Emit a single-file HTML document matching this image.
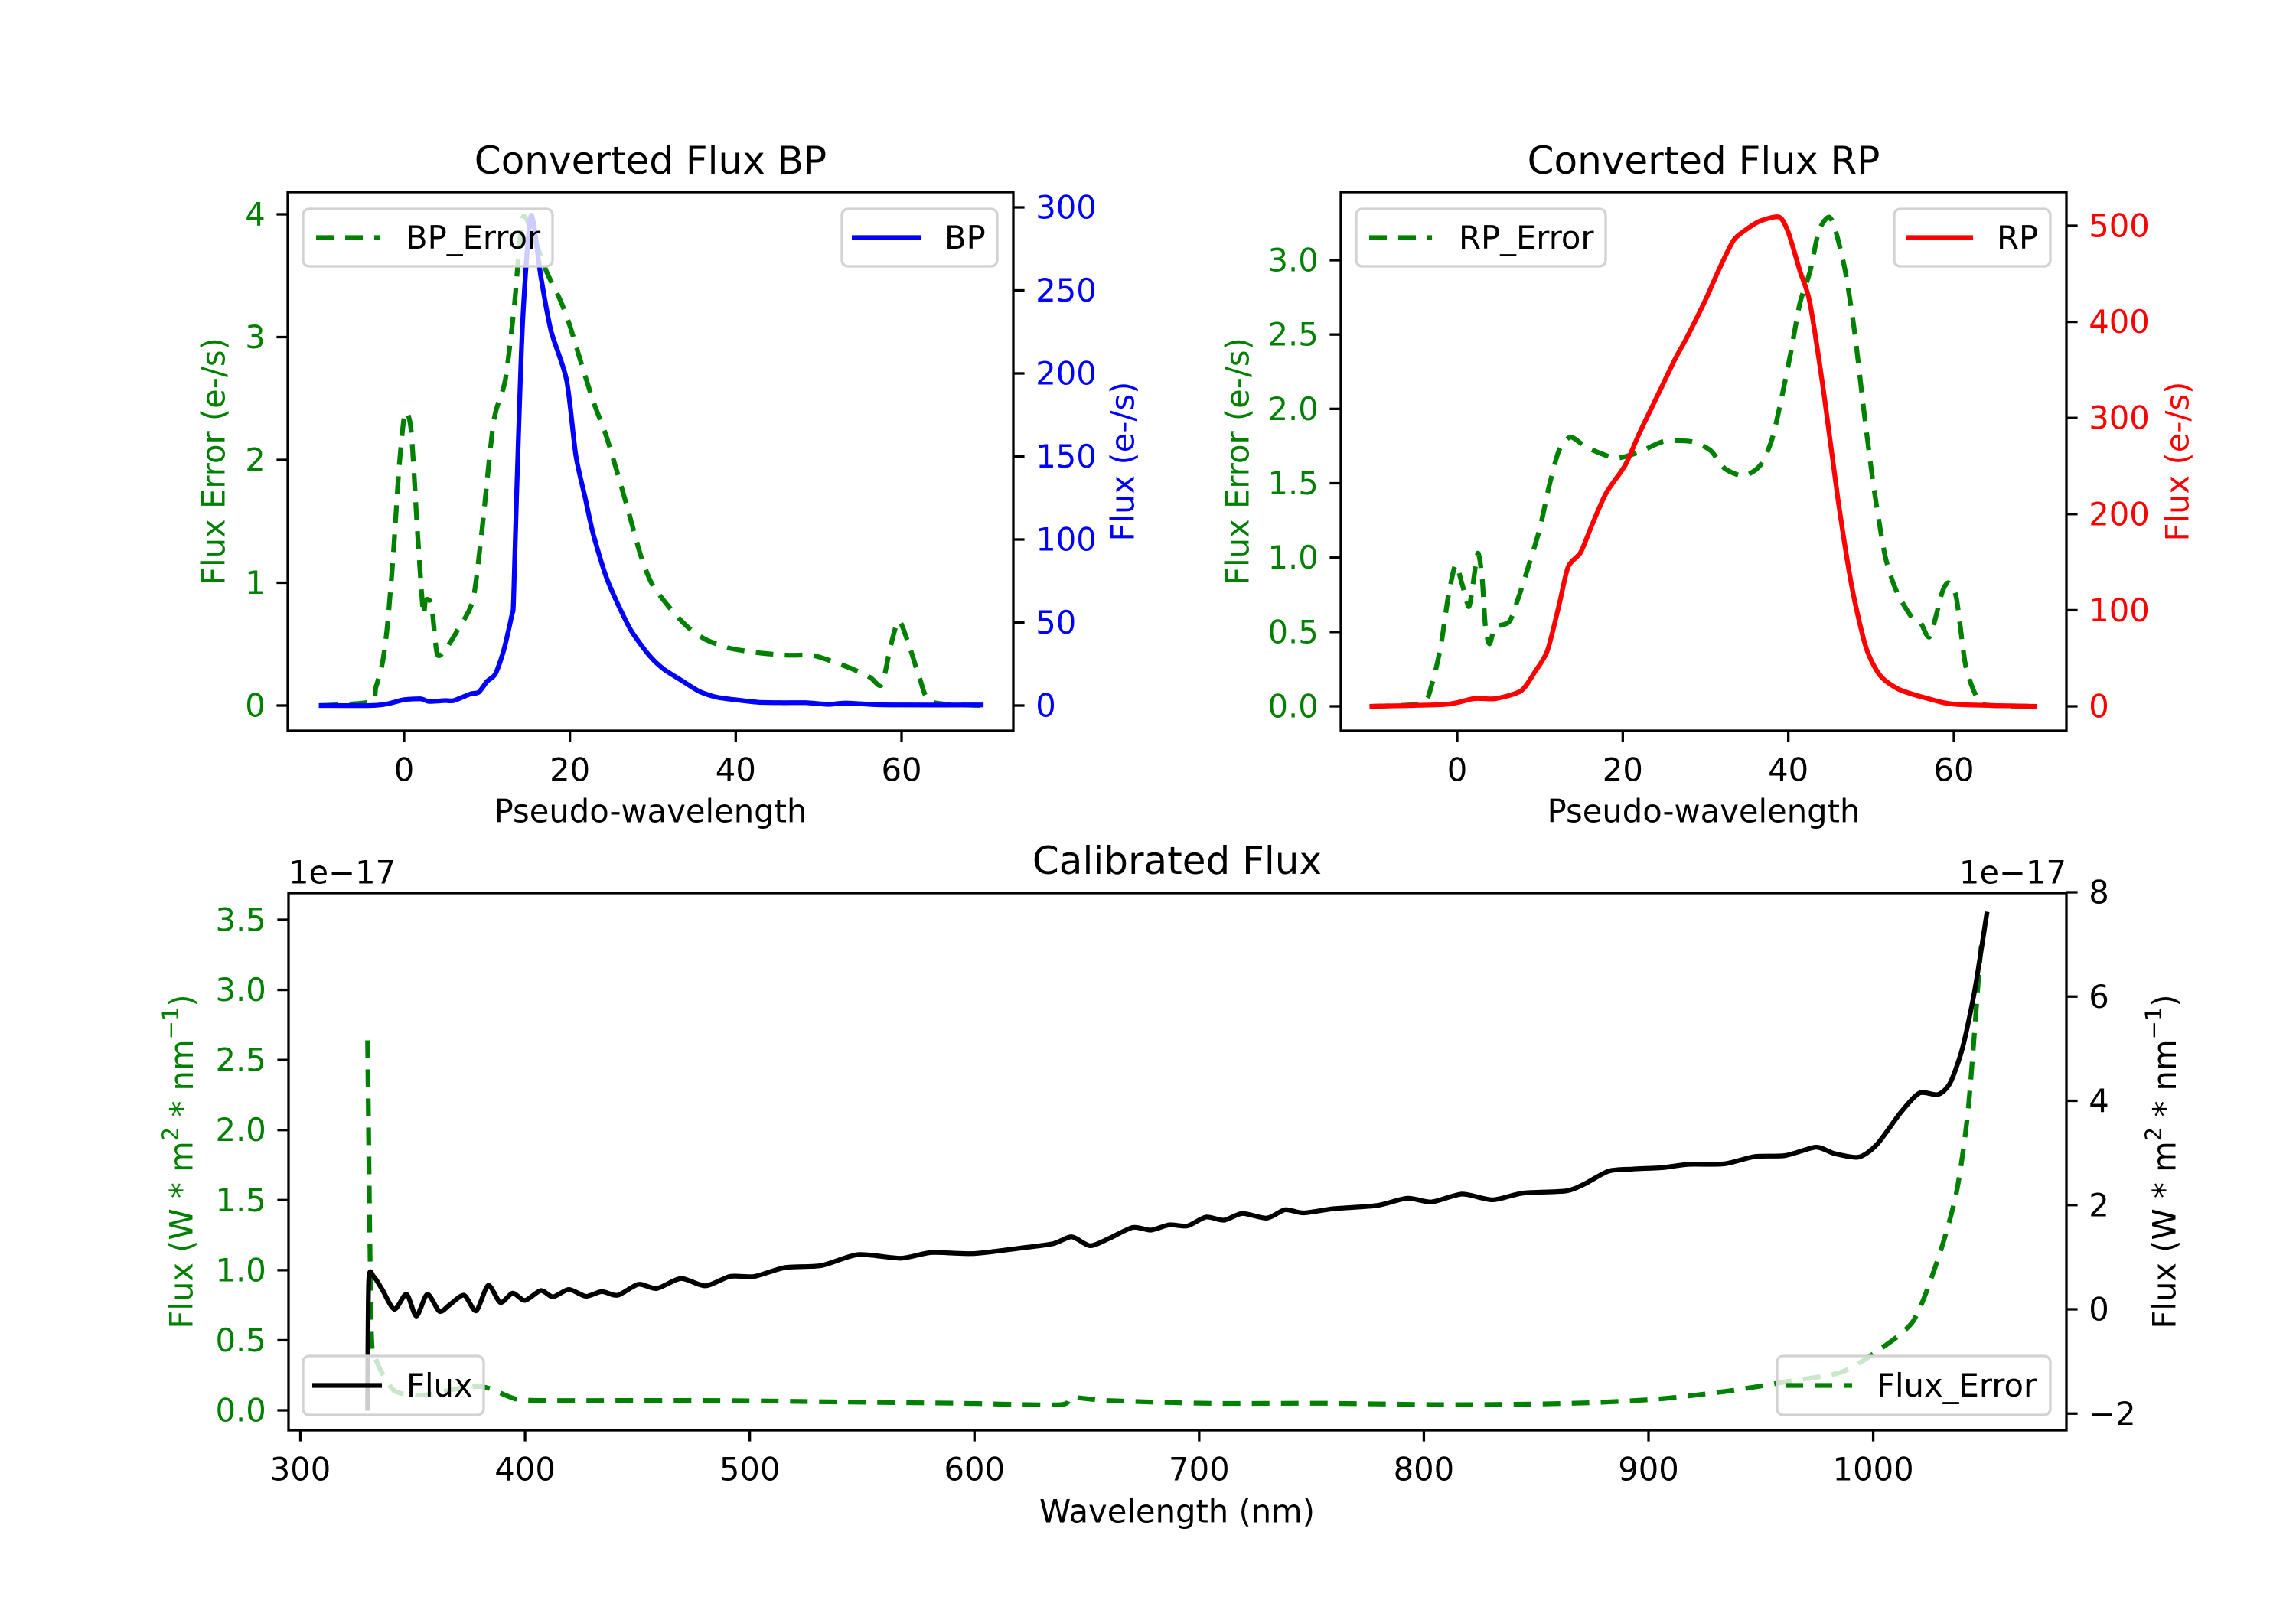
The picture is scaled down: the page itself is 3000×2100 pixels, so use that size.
<!DOCTYPE html>
<html><head><meta charset="utf-8"><style>
html,body{margin:0;padding:0;background:#fff}
svg{display:block;font-family:"DejaVu Sans","Liberation Sans",sans-serif}
</style></head><body>
<svg id="fig" xmlns="http://www.w3.org/2000/svg" width="3000" height="2100" viewBox="0 0 3000 2100">
<rect width="3000" height="2100" fill="#fff"/>
</svg>
<script>
// ---- BP data ----
const bpX = [-10,-4,-2,0,2,3,5,6,8,9,10,11,12,13,13.2,13.6,14.3,15.3,16.5,17.7,19.6,20.7,21.8,22.8,24.3,25.7,27.4,29.6,31.3,33.5,35.6,37.7,39.9,42.7,45.5,48.4,51.2,53.3,56.9,60.4,69.6];
const bpFlux = [0,0,1,3.5,4,2.5,3,3,7,8,14.5,19,33,54.5,63,131,231,295,258,226,196,151,126,103.5,78.5,62,45,30,22,15,8.5,5,3.5,2,1.7,1.7,0.7,1.5,0.5,0.3,0.3];
const bpErrX = [-10.1,-4.1,-3.4,-2.6,-2,-1.3,-0.6,0.1,0.85,1.6,2.3,2.6,3.3,4,5.1,6.5,8.3,9.4,10.8,12.2,13.3,14.3,15.7,17.2,18.9,20,21.4,22.8,24.3,25.7,27.1,28.5,29.9,32.1,34.2,36.3,39.1,42.7,46.2,49.1,51.2,54,56.2,57.6,58.7,59.7,61.1,62.2,63.6,69.6];
const bpErr = [0,0.03,0.15,0.35,0.66,1.23,1.94,2.38,2.24,1.43,0.76,0.86,0.82,0.42,0.47,0.62,0.86,1.43,2.31,2.65,3.26,3.97,3.8,3.53,3.29,3.09,2.78,2.48,2.21,1.9,1.57,1.23,0.99,0.79,0.64,0.54,0.47,0.43,0.41,0.41,0.37,0.3,0.23,0.17,0.49,0.69,0.45,0.22,0.03,0];
// ---- RP data ----
const rpX = [-10.3,-1.4,2,4.6,7.7,9.4,10.9,12.3,13.4,14.9,16.3,18,20.3,22,24.3,26.3,27.7,30,31.7,33.4,34.9,36.6,38.9,40,41.4,42.6,44.3,46,47.7,49.4,51.1,53.4,56.9,60.3,69.7];
const rpFlux = [0,2,8,8,16,36,58,105,145,160,189,222,251,284,325,361,383,423,456,485,496,505,509,493,453,420,325,215,123,61,32,17.5,8,2,0];
const rpErrX = [-10.3,-4.3,-3.1,-2,-1.1,-0.2,0.6,1.4,1.9,2.5,3,3.4,3.9,4.6,6.3,7.4,8.6,10,11.1,12.3,13.7,15.7,19.1,22,24.9,28.3,30.6,32.3,34.6,36.6,38,39.1,40.3,41.4,42.6,43.7,44.9,45.7,46.9,48,49.1,50.3,51.7,53.1,54.9,56,57.1,58.6,59.4,60.3,61.4,62.6,63.7,69.7];
const rpErr = [0,0.02,0.14,0.4,0.73,0.95,0.82,0.67,0.82,1.03,0.87,0.54,0.42,0.53,0.57,0.73,0.94,1.2,1.48,1.72,1.81,1.74,1.67,1.71,1.78,1.78,1.72,1.6,1.55,1.62,1.79,2.05,2.38,2.71,2.92,3.2,3.29,3.2,2.92,2.52,2.0,1.48,1.01,0.77,0.6,0.56,0.47,0.77,0.83,0.73,0.28,0.08,0.01,0];
// ---- Calibrated data (units 1e-17) ----
const calWl = [329.9,330.4,332.6,336.4,341.8,347.2,351.6,356.5,361.9,366.3,372.8,378.2,383.6,389,394.5,399.9,407,412.4,419.5,427.1,434.1,441.2,450.4,458.6,469.4,480.3,491.2,502,515.6,531.9,548.2,567.2,580.8,599.8,621.5,635.1,643.2,651.4,659.5,670.4,678.5,686.7,694.8,703,711.1,719.2,730.1,738.3,746.4,760,779,792.6,803.4,817,830.6,844.1,863.1,871.3,882.2,892.9,906.6,917.5,933.7,947.3,960.9,974.5,982.6,993.5,1001.6,1012.5,1020.6,1028.8,1034.2,1039.7,1045.1,1050.5];
const calFlux = [-1.9,0.55,0.63,0.38,0,0.29,-0.13,0.29,-0.04,0.08,0.27,-0.03,0.46,0.13,0.31,0.17,0.36,0.24,0.38,0.25,0.34,0.27,0.48,0.4,0.59,0.45,0.63,0.63,0.8,0.84,1.05,0.98,1.09,1.07,1.18,1.26,1.39,1.22,1.35,1.57,1.52,1.62,1.6,1.77,1.71,1.84,1.75,1.91,1.85,1.93,1.99,2.13,2.06,2.21,2.1,2.23,2.27,2.4,2.65,2.69,2.72,2.78,2.79,2.93,2.95,3.11,2.99,2.92,3.16,3.79,4.15,4.12,4.34,5.01,6.1,7.58];
const calErrWl = [329.9,331.5,333.7,341.8,355.4,371.7,379.8,385.3,396.1,409.7,431.4,485.7,540,594.3,637.8,643.2,659.5,703,757.3,811.6,865.9,904,936.5,963.6,985.4,1001.6,1017.9,1028.8,1037,1042.4,1047.8,1049.4];
const calErr = [2.64,0.61,0.36,0.14,0.11,0.16,0.17,0.15,0.08,0.07,0.07,0.07,0.06,0.05,0.04,0.09,0.07,0.05,0.05,0.04,0.05,0.08,0.14,0.21,0.27,0.42,0.64,1.08,1.55,2.17,3.27,3.42];
// tick arrays
const bpXTicks = [0,20,40,60];
const bpLTicks = [0,1,2,3,4];
const bpRTicks = [0,50,100,150,200,250,300];
const rpLTicks = [0,0.5,1,1.5,2,2.5,3];
const rpLLabels = ["0.0","0.5","1.0","1.5","2.0","2.5","3.0"];
const rpRTicks = [0,100,200,300,400,500];
const calXTicks = [300,400,500,600,700,800,900,1000];
const calLTicks = [0,0.5,1,1.5,2,2.5,3,3.5];
const calLLabels = ["0.0","0.5","1.0","1.5","2.0","2.5","3.0","3.5"];
const calRTicks = [-2,0,2,4,6,8];
const calRLabels = ["\u22122","0","2","4","6","8"];

const NS="http://www.w3.org/2000/svg";
const svg=document.getElementById('fig');
const FS=41.7, LW=6.25, TL=14.6, TW=3.3;
function mk(tag,attrs,parent){const e=document.createElementNS(NS,tag);for(const k in attrs)e.setAttribute(k,attrs[k]);(parent||svg).appendChild(e);return e;}
function lin(d0,d1,p0,p1){return v=>p0+(v-d0)*(p1-p0)/(d1-d0);}
function txt(s,x,y,opt,name){const t=mk('text',{x:x,y:y,'font-size':opt.fs||FS,fill:opt.fill||'#000','text-anchor':opt.anchor||'middle','dominant-baseline':'central'});
 if(opt.rot) t.setAttribute('transform','rotate(-90 '+x+' '+y+')');
 t.textContent=s;
 
 
 return t;}
function series(xs,ys,sx,sy,color,dash,name){
 const P=xs.map((x,i)=>[sx(x),sy(ys[i])]);
 let d='M'+P[0][0].toFixed(1)+' '+P[0][1].toFixed(1);
 for(let i=0;i<P.length-1;i++){
  const p0=P[Math.max(0,i-1)],p1=P[i],p2=P[i+1],p3=P[Math.min(P.length-1,i+2)];
  const k=1/8;
  const c1=[p1[0]+(p2[0]-p0[0])*k,p1[1]+(p2[1]-p0[1])*k];
  const c2=[p2[0]-(p3[0]-p1[0])*k,p2[1]-(p3[1]-p1[1])*k];
  d+='C'+c1[0].toFixed(1)+' '+c1[1].toFixed(1)+' '+c2[0].toFixed(1)+' '+c2[1].toFixed(1)+' '+p2[0].toFixed(1)+' '+p2[1].toFixed(1);
 }
 const p=mk('path',{d:d,fill:'none',stroke:color,'stroke-width':LW,'stroke-linejoin':'round','stroke-linecap':dash?'butt':'square'});
 if(dash)p.setAttribute('stroke-dasharray','23 15');
 
 
 return p;}
function frame(x0,y0,x1,y1,name){const r=mk('rect',{x:x0,y:y0,width:x1-x0,height:y1-y0,fill:'none',stroke:'#000','stroke-width':TW});
 
 }
function xticks(ticks,labels,sx,yb,name){ticks.forEach((v,i)=>{const x=sx(v);
 const l=mk('line',{x1:x,x2:x,y1:yb,y2:yb+TL,stroke:'#000','stroke-width':TW});
 
 
 txt(labels[i],x,yb+TL+14.6+22,{},name+'-label');});}
function yticks(ticks,labels,sy,xe,side,color,name){ticks.forEach((v,i)=>{const y=sy(v);
 const x2=side<0?xe-TL:xe+TL;
 const l=mk('line',{x1:xe,x2:x2,y1:y,y2:y,stroke:'#000','stroke-width':TW});
 
 
 txt(labels[i],side<0?x2-14.6:x2+14.6,y,{anchor:side<0?'end':'start',fill:color},name+'-label');});}
function legend(x0,y0,x1,y1,lx0,lx1,tx,label,color,dash,name){
 const g=mk('g',{});
 
 
 mk('rect',{x:x0,y:y0,width:x1-x0,height:y1-y0,rx:8,fill:'#fff','fill-opacity':0.8,stroke:'#d2d2d2','stroke-width':3.3},g);
 const cy=(y0+y1)/2;
 const l=mk('line',{x1:lx0,x2:lx1,y1:cy,y2:cy,stroke:color,'stroke-width':LW},g);
 if(dash)l.setAttribute('stroke-dasharray','23 15');
 const t=mk('text',{x:tx,y:cy,'font-size':FS,'dominant-baseline':'central'},g);
 t.textContent=label;}

// ===== BP =====
{const sx=lin(0,60,528,1178), sl=lin(0,4,922,280), sr=lin(0,300,922,271);
 series(bpErrX,bpErr,sx,sl,'#008000',true,'bp-error-line');
 series(bpX,bpFlux,sx,sr,'#0000ff',false,'bp-flux-line');
 frame(376,251,1324,955,'bp-axes-frame');
 xticks(bpXTicks,bpXTicks.map(String),sx,955,'bp-x-tick');
 yticks(bpLTicks,bpLTicks.map(String),sl,376,-1,'#008000','bp-left-tick');
 yticks(bpRTicks,bpRTicks.map(String),sr,1324,1,'#0000ff','bp-right-tick');
 txt('Converted Flux BP',850,210,{fs:50},'bp-title');
 txt('Pseudo-wavelength',850,1060,{},'bp-x-axis-title');
 txt('Flux Error (e-/s)',279,603,{rot:1,fill:'#008000'},'bp-left-axis-title');
 txt('Flux (e-/s)',1467,603,{rot:1,fill:'#0000ff'},'bp-right-axis-title');
 legend(396,273,722,348,413,497,530,'BP_Error','#008000',true,'bp-error-legend');
 legend(1100,273,1303,348,1113,1203,1234,'BP','#0000ff',false,'bp-legend');}

// ===== RP =====
{const sx=lin(0,60,1904,2553), sl=lin(0,3,923,340), sr=lin(0,500,923,295);
 series(rpErrX,rpErr,sx,sl,'#008000',true,'rp-error-line');
 series(rpX,rpFlux,sx,sr,'#ff0000',false,'rp-flux-line');
 frame(1752,251,2700,955,'rp-axes-frame');
 xticks(bpXTicks,bpXTicks.map(String),sx,955,'rp-x-tick');
 yticks(rpLTicks,rpLLabels,sl,1752,-1,'#008000','rp-left-tick');
 yticks(rpRTicks,rpRTicks.map(String),sr,2700,1,'#ff0000','rp-right-tick');
 txt('Converted Flux RP',2226,210,{fs:50},'rp-title');
 txt('Pseudo-wavelength',2226,1060,{},'rp-x-axis-title');
 txt('Flux Error (e-/s)',1617,603,{rot:1,fill:'#008000'},'rp-left-axis-title');
 txt('Flux (e-/s)',2845,603,{rot:1,fill:'#ff0000'},'rp-right-axis-title');
 legend(1772,273,2098,348,1789,1871,1906,'RP_Error','#008000',true,'rp-error-legend');
 legend(2475,273,2679,348,2490,2578,2609,'RP','#ff0000',false,'rp-legend');}

// ===== Calibrated =====
{const sx=lin(300,1000,392.5,2447.6), sl=lin(0,3.5,1843,1202), sr=lin(0,8,1711,1166);
 series(calErrWl,calErr,sx,sl,'#008000',true,'cal-flux-error-line');
 series(calWl,calFlux,sx,sr,'#000000',false,'cal-flux-line');
 frame(377,1167,2700,1869,'cal-axes-frame');
 xticks(calXTicks,calXTicks.map(String),sx,1869,'cal-x-tick');
 yticks(calLTicks,calLLabels,sl,377,-1,'#008000','cal-left-tick');
 yticks(calRTicks,calRLabels,sr,2700,1,'#000000','cal-right-tick');
 txt('Calibrated Flux',1538,1125,{fs:50},'cal-title');
 txt('1e\u221217',377,1140,{anchor:'start'},'cal-left-offset');
 txt('1e\u221217',2700,1140,{anchor:'end'},'cal-right-offset');
 txt('Wavelength (nm)',1538,1975,{},'cal-x-axis-title');
 const l=mk('text',{x:237,y:1518,'font-size':FS,fill:'#008000','text-anchor':'middle','dominant-baseline':'central',transform:'rotate(-90 237 1518)'});
 l.innerHTML='Flux (W * m<tspan font-size="29" dy="-14">2</tspan><tspan dy="14"> * nm</tspan><tspan font-size="29" dy="-14">\u22121</tspan><tspan dy="14">)</tspan>';
 
 
 const r=mk('text',{x:2828,y:1518,'font-size':FS,fill:'#000','text-anchor':'middle','dominant-baseline':'central',transform:'rotate(-90 2828 1518)'});
 r.innerHTML='Flux (W * m<tspan font-size="29" dy="-14">2</tspan><tspan dy="14"> * nm</tspan><tspan font-size="29" dy="-14">\u22121</tspan><tspan dy="14">)</tspan>';
 
 
 legend(396,1772,632,1849,408,499,531,'Flux','#000000',false,'cal-flux-legend');
 legend(2322,1772,2679,1849,2333,2420,2452,'Flux_Error','#008000',true,'cal-flux-error-legend');}
</script>
</body></html>
